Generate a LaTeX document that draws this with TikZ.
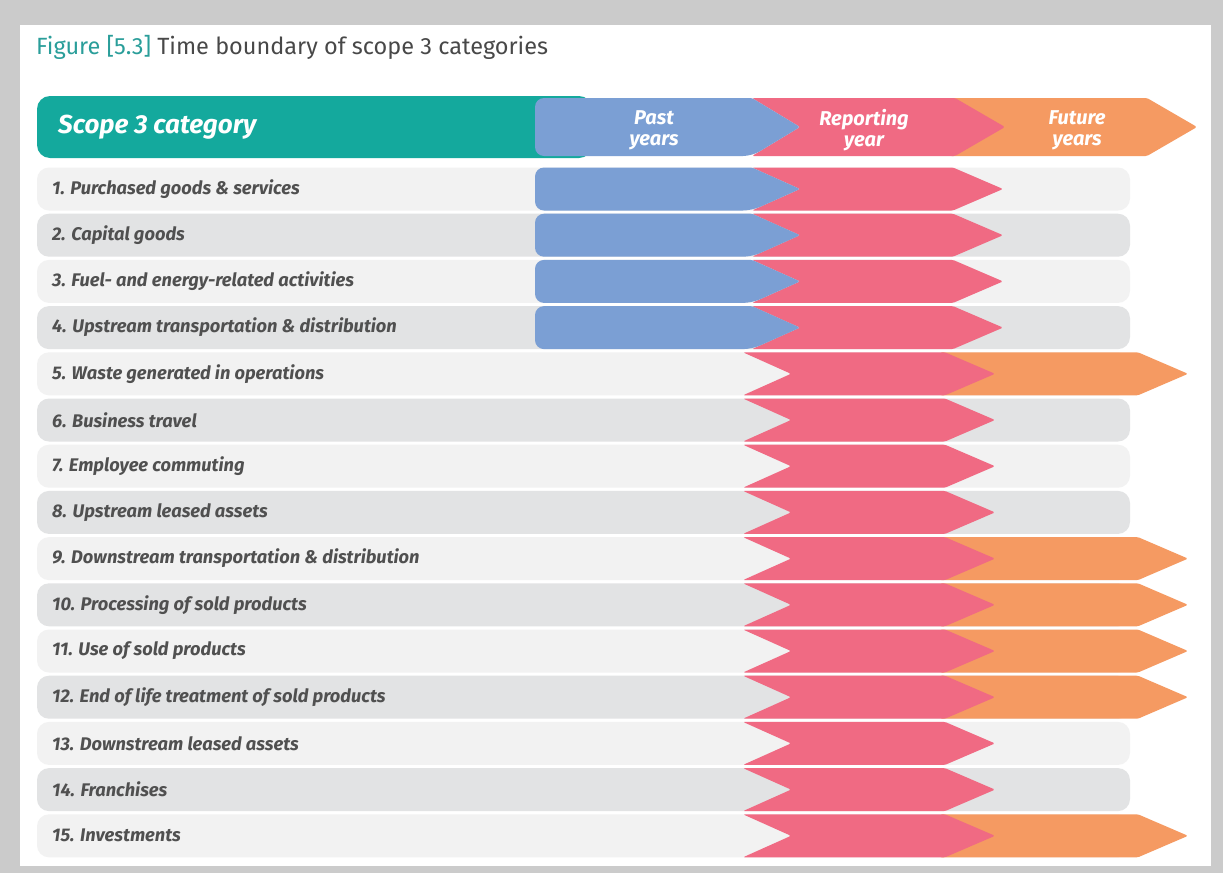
\documentclass[tikz,border=0pt]{standalone}
\usepackage{fontspec}
\setmainfont{Fira Sans}
\definecolor{frame}{HTML}{CBCBCB}
\definecolor{teal3}{HTML}{14A99D}
\definecolor{titleteal}{HTML}{2A9E9A}
\definecolor{titlegray}{HTML}{484848}
\definecolor{pastblue}{HTML}{7B9FD4}
\definecolor{reppink}{HTML}{F06A83}
\definecolor{futorange}{HTML}{F59A62}
\definecolor{rowlight}{HTML}{F2F2F2}
\definecolor{rowdark}{HTML}{E2E3E4}
\definecolor{lbltext}{HTML}{505050}
\newcommand{\chevshape}[5]{%
  \fill[#1, rounded corners=1.5pt] (#2,#4) -- ({#3-50},#4) -- (#3,{(#4+#5)/2}) -- ({#3-50},#5) -- (#2,#5) -- ({#2+48},{(#4+#5)/2}) -- cycle;}
\newcommand{\bluebar}[2]{%
  \fill[pastblue] (800,{(#1+#2)/2}) [rounded corners=1.5pt] -- (752,#1) [rounded corners=9pt] -- (535,#1) -- (535,#2) -- (752,#2) [rounded corners=1.5pt] -- cycle;}
\tikzset{
  lbl/.style={anchor=west, inner sep=0pt, text=lbltext, font=\fontsize{18.3}{22}\selectfont\bfseries\itshape},
  hdr/.style={align=center, inner sep=0pt, text=white, font=\fontsize{20}{21}\selectfont\bfseries\itshape},
}
\begin{document}
\begin{tikzpicture}[x=1pt,y=-1pt]
\useasboundingbox (0,0) rectangle (1223,873);
\fill[frame] (0,0) rectangle (1223,873);
\fill[white] (20,25) rectangle (1211,866);
\node[anchor=west, inner sep=0pt, font=\fontsize{23.5}{28}\selectfont] (title) at (36,47)
  {\textcolor{titleteal}{Figure [5.3]} \textcolor{titlegray}{Time boundary of scope 3 categories}};
% header
\fill[teal3, rounded corners=13pt] (37,96) rectangle (592,158);
\chevshape{futorange}{950}{1197}{98}{156}
\chevshape{reppink}{752}{1005}{98}{156}
\bluebar{98}{156}
\node[anchor=west, inner sep=0pt, text=white, font=\fontsize{26}{30}\selectfont\bfseries\itshape] (hcat) at (58,127) {Scope 3 category};
\node[hdr] (hpast) at (654,130) {Past\\years};
\node[hdr] (hrep) at (864,130) {Reporting\\year};
\node[hdr] (hfut) at (1077,130) {Future\\years};
% rows
\foreach \i/\txt/\kind in {
 1/{1. Purchased goods \& services}/a,
 2/{2. Capital goods}/a,
 3/{3. Fuel- and energy-related activities}/a,
 4/{4. Upstream transportation \& distribution}/a,
 5/{5. Waste generated in operations}/c,
 6/{6. Business travel}/b,
 7/{7. Employee commuting}/b,
 8/{8. Upstream leased assets}/b,
 9/{9. Downstream transportation \& distribution}/c,
 10/{10. Processing of sold products}/c,
 11/{11. Use of sold products}/c,
 12/{12. End of life treatment of sold products}/c,
 13/{13. Downstream leased assets}/b,
 14/{14. Franchises}/b,
 15/{15. Investments}/c}{
  \pgfmathsetmacro{\yc}{189+(\i-1)*46.2}
  \pgfmathsetmacro{\yt}{\yc-21.5}
  \pgfmathsetmacro{\yb}{\yc+21.5}
  \pgfmathparse{int(mod(\i,2))}
  \ifnum\pgfmathresult=1 \def\rowcol{rowlight}\else\def\rowcol{rowdark}\fi
  \fill[\rowcol, rounded corners=12pt] (37,\yt) rectangle (1130,\yb);
  \if a\kind
    \chevshape{reppink}{752}{1003}{\yt}{\yb}
    \bluebar{\yt}{\yb}
  \fi
  \if b\kind
    \chevshape{reppink}{743}{995}{\yt}{\yb}
  \fi
  \if c\kind
    \chevshape{futorange}{940}{1188}{\yt}{\yb}
    \chevshape{reppink}{743}{995}{\yt}{\yb}
  \fi
  \node[lbl] (cat\i) at (52,\yc) {\txt};
}
\end{tikzpicture}
\end{document}
